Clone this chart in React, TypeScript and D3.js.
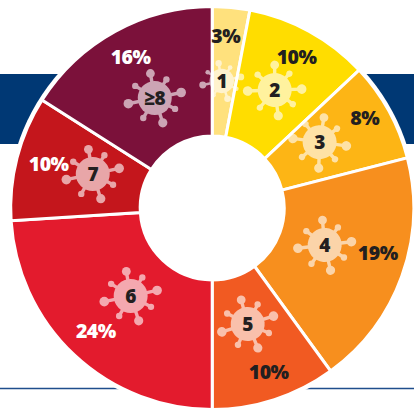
import React from "react";
import * as d3 from "d3";

const categories = ["1", "2", "3", "4", "5", "6", "7", "≥8"];
const shares = [3, 10, 8, 19, 10, 24, 10, 16];
const sliceColors = ["#FFE17D", "#FFDD00", "#FDB515", "#F78F1E", "#F15A22", "#E31B2D", "#C4161C", "#7B113A"];
const pctColors = ["#231F20", "#231F20", "#231F20", "#231F20", "#231F20", "#fff", "#fff", "#fff"];

// label layout: polar offset from the centre, [radius, degrees clockwise from top]
const virusPolar: [number, number][] = [
  [127.4, 4.3], [133.5, 27.9], [126, 58.5], [118.4, 108.2], [121.3, 163], [120, 222.8], [124.2, 285.9], [124, 332.4],
];
const pctPolar: [number, number][] = [
  [172.5, 4.5], [173, 29.2], [177, 59.5], [171.5, 105.2], [173.5, 161], [169.4, 223.4], [169.3, 285], [171.6, 331.6],
];
const virusScale = [0.72, 1, 1, 1, 1, 1, 1, 1];
const virusRotate = [0, 10, 20, 5, -5, 0, 0, 0];

const W = 414, H = 408, cx = 212.2, cy = 208, R = 201.5, r0 = 72;
const spikes: [number, number, number][] = [
  [-100, 25, 4.4], [-58, 22, 3.2], [-12, 27, 4.8], [28, 23, 3.2], [72, 26, 4.6], [120, 23, 3.2], [168, 27, 4.8], [-148, 23, 3.2],
];

const polar = ([rad, deg]: [number, number]) => {
  const a = (deg * Math.PI) / 180;
  return [cx + rad * Math.sin(a), cy - rad * Math.cos(a)];
};

function Virus({ x, y, s, rot, label }: { x: number; y: number; s: number; rot: number; label: string }) {
  return (
    <g transform={`translate(${x},${y})`}>
      <g transform={`rotate(${rot}) scale(${s})`} opacity={0.62}>
        <circle r={17} fill="#fff" />
        {spikes.map(([deg, len, rad], i) => {
          const a = (deg * Math.PI) / 180;
          const px = len * Math.cos(a), py = len * Math.sin(a);
          return (
            <g key={i}>
              <line x1={0} y1={0} x2={px} y2={py} stroke="#fff" strokeWidth={3.4} />
              <circle cx={px} cy={py} r={rad} fill="#fff" />
            </g>
          );
        })}
      </g>
      <text textAnchor="middle" dy="0.36em" fontSize={19} fontWeight={800} fill="#231F20" letterSpacing={-0.5}>{label}</text>
    </g>
  );
}

export default function App() {
  const pie = d3.pie<number>().sort(null).value((d) => d);
  const arcs = pie(shares);
  const arc = d3.arc<d3.PieArcDatum<number>>().innerRadius(r0).outerRadius(R);
  return (
    <svg width={W} height={H} viewBox={`0 0 ${W} ${H}`}
      style={{ position: "absolute", left: 0, top: 0, fontFamily: "'Open Sans', sans-serif" }}>
      <rect x={0} y={0} width={W} height={H} fill="#fff" />
      <rect x={0} y={74} width={W} height={70} fill="#003874" />
      <line x1={0} x2={W} y1={388.5} y2={388.5} stroke="#1F4E8C" strokeWidth={1.5} />
      <circle cx={cx} cy={cy} r={R + 3} fill="#fff" />
      <g transform={`translate(${cx},${cy})`}>
        {arcs.map((d, i) => (
          <path key={i} d={arc(d) as string} fill={sliceColors[i]} stroke="#fff" strokeWidth={3} strokeLinejoin="miter" />
        ))}
      </g>
      {categories.map((c, i) => {
        const [x, y] = polar(virusPolar[i]);
        return <Virus key={c} x={x} y={y} s={virusScale[i]} rot={virusRotate[i]} label={c} />;
      })}
      {shares.map((v, i) => {
        const [x, y] = polar(pctPolar[i]);
        return (
          <text key={i} x={x} y={y} textAnchor="middle" dy="0.36em" fontSize={19.5} fontWeight={800} fill={pctColors[i]} letterSpacing={-0.5}>
            {v}%
          </text>
        );
      })}
    </svg>
  );
}
